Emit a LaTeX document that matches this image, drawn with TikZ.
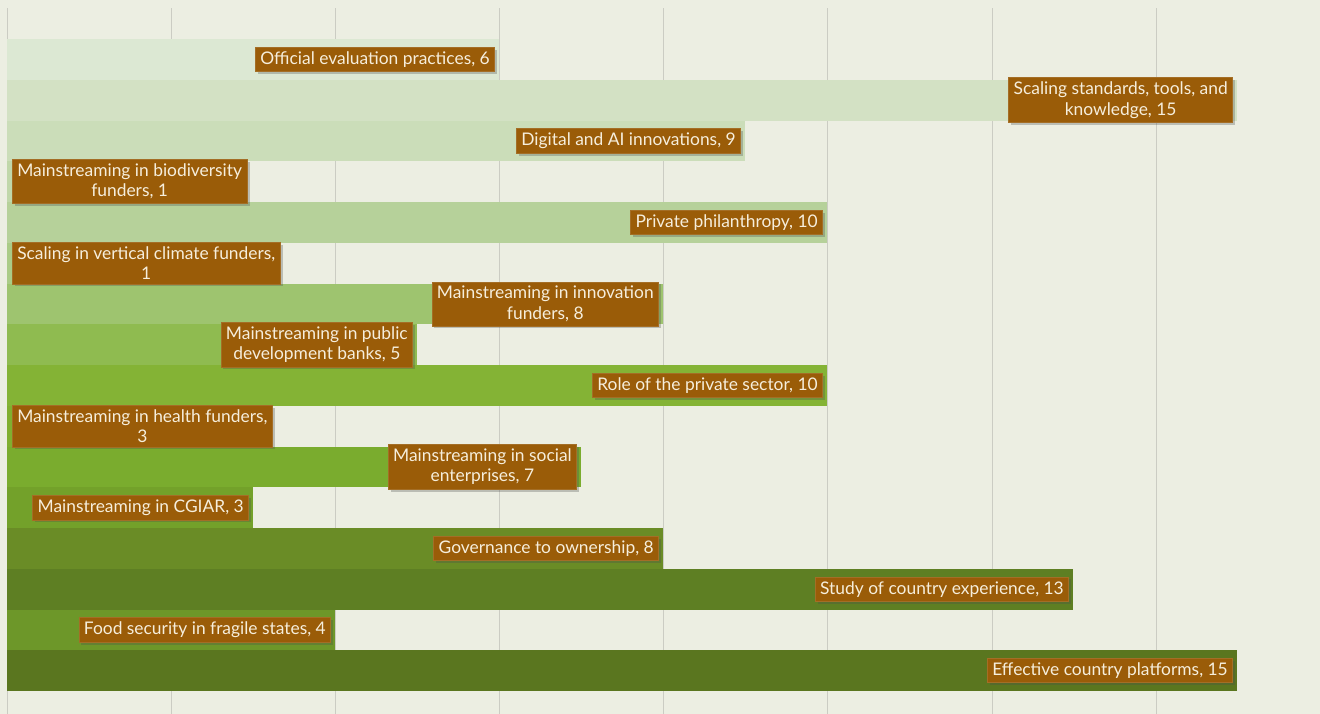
\documentclass[tikz,border=0pt]{standalone}
\usepackage{fontspec}
\setmainfont{Lato}
\usepackage{tikz}
\usetikzlibrary{shadows,positioning}
\definecolor{chartBg}{HTML}{ECEEE2}
\definecolor{gridGray}{HTML}{CBCCC3}
\definecolor{labelBrown}{HTML}{9A5C08}
\definecolor{labelEdge}{HTML}{A46E26}
\definecolor{labelText}{HTML}{F6EEDC}
\definecolor{barA}{HTML}{DCE8D3}
\definecolor{barB}{HTML}{D3E1C4}
\definecolor{barC}{HTML}{CBDDB9}
\definecolor{barD}{HTML}{C0D7AA}
\definecolor{barE}{HTML}{B6D19A}
\definecolor{barF}{HTML}{AACB87}
\definecolor{barG}{HTML}{9EC46F}
\definecolor{barH}{HTML}{8FBB50}
\definecolor{barI}{HTML}{84B335}
\definecolor{barJ}{HTML}{80AF30}
\definecolor{barK}{HTML}{7AAC2E}
\definecolor{barL}{HTML}{73A12A}
\definecolor{barM}{HTML}{6A8C26}
\definecolor{barN}{HTML}{5E7F23}
\definecolor{barO}{HTML}{6D9729}
\definecolor{barP}{HTML}{5A761F}

\tikzset{
  barlabel/.style={fill=labelBrown, draw=labelEdge, line width=0.3pt, text=labelText,
    font=\fontsize{9.9}{11.5}\selectfont, align=center, inner xsep=0.1cm, inner ysep=0.085cm,
    drop shadow={shadow xshift=0.05cm, shadow yshift=-0.05cm, opacity=0.3, fill=black!70}}
}

\begin{document}
\begin{tikzpicture}[x=0.02cm, y=-0.02cm]
    % Background
    \fill[chartBg] (0,0) rectangle (1320,714);
    \useasboundingbox (0,0) rectangle (1320,714);
    \foreach \gx in {7,171,335,499,663,827,992,1156}
        \draw[gridGray, line width=0.5pt] (\gx,8) -- (\gx,714);

    % Bars (value / colour), one unit = 82px
    \foreach \v/\c [count=\i] in {6/barA,15/barB,9/barC,1/barD,10/barE,1/barF,8/barG,5/barH,
                                  10/barI,3/barJ,7/barK,3/barL,8/barM,13/barN,4/barO,15/barP}
        \fill[\c] (7,{39+(\i-1)*40.75}) rectangle ({7+\v*82},{39+\i*40.75});

    % Labels
    \node[barlabel, anchor=east] (official) at (495,59.4) {Official evaluation practices, 6};
    \node[barlabel, anchor=east] (scaling) at (1233,100.1) {Scaling standards, tools, and\\knowledge, 15};
    \node[barlabel, anchor=east] (digital) at (741,140.9) {Digital and AI innovations, 9};
    \node[barlabel, anchor=west] (biodiv) at (12,181.6) {Mainstreaming in biodiversity\\funders, 1};
    \node[barlabel, anchor=east] (philanthropy) at (823,222.4) {Private philanthropy, 10};
    \node[barlabel, anchor=west] (climate) at (12,263.1) {Scaling in vertical climate funders,\\1};
    \node[barlabel, anchor=east] (innovation) at (659,303.9) {Mainstreaming in innovation\\funders, 8};
    \node[barlabel, anchor=east] (devbanks) at (413,344.6) {Mainstreaming in public\\development banks, 5};
    \node[barlabel, anchor=east] (privsector) at (823,385.4) {Role of the private sector, 10};
    \node[barlabel, anchor=west] (health) at (12,426.1) {Mainstreaming in health funders,\\3};
    \node[barlabel, anchor=east] (social) at (577,466.9) {Mainstreaming in social\\enterprises, 7};
    \node[barlabel, anchor=east] (cgiar) at (249,507.6) {Mainstreaming in CGIAR, 3};
    \node[barlabel, anchor=east] (governance) at (659,548.4) {Governance to ownership, 8};
    \node[barlabel, anchor=east] (country) at (1069,589.1) {Study of country experience, 13};
    \node[barlabel, anchor=east] (food) at (331,629.9) {Food security in fragile states, 4};
    \node[barlabel, anchor=east] (platforms) at (1233,670.6) {Effective country platforms, 15};
\end{tikzpicture}
\end{document}
